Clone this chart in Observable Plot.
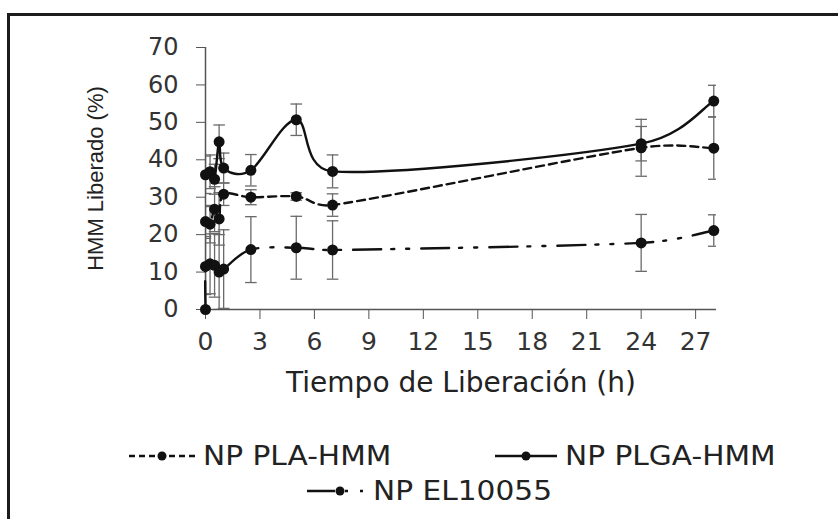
<!DOCTYPE html>
<html><head><meta charset="utf-8">
<script src="https://cdn.jsdelivr.net/npm/d3@7"></script>
<script src="https://cdn.jsdelivr.net/npm/@observablehq/plot@0.6"></script>
<style>
body{margin:0;background:#fff;width:838px;height:519px;overflow:hidden;position:relative;font-family:"DejaVu Sans",sans-serif;}
#frame{position:absolute;left:7px;top:13px;width:900px;height:600px;border-top:3px solid #1c1c1c;border-left:3px solid #1c1c1c;}
#chart{position:absolute;left:0;top:0;}
.item{position:absolute;display:flex;align-items:center;font-size:26px;color:#222;white-space:nowrap;}
.item svg{margin-right:8px;}
.item span{display:inline-block;transform:scaleX(1.14);transform-origin:left center;}
</style></head><body>
<div id="frame"></div>
<div id="chart"></div>
<div id="legend"></div>
<script>
// ---- data ----
const times = [0, 0.25, 0.5, 0.75, 1, 2.5, 5, 7, 24, 28];
const plaValues = [23.5, 22.8, 26.8, 24.2, 30.8, 30.0, 30.2, 27.9, 43.2, 43.1];
const plaErrors = [4, 5, 6, 7, 3, 2, 1, 3, 7.6, 8.3];
const plgaValues = [36, 36.8, 34.8, 44.8, 37.8, 37.2, 50.7, 36.9, 44.3, 55.7];
const plgaErrors = [5, 4.5, 4, 4.5, 4, 4.2, 4.2, 4.4, 4.6, 4.2];
const elTimes = [0, 0, 0.25, 0.5, 0.75, 1, 2.5, 5, 7, 24, 28];
const elValues = [0, 11.5, 12.2, 11.8, 10, 10.8, 16, 16.5, 15.9, 17.8, 21.1];
const elErrors = [0, 7.5, 8, 8.5, 10, 10.5, 8.8, 8.4, 7.8, 7.6, 4.2];
const seriesNames = ["NP PLA-HMM", "NP PLGA-HMM", "NP EL10055"];
const xTicks = [0, 3, 6, 9, 12, 15, 18, 21, 24, 27];
const yTicks = [0, 10, 20, 30, 40, 50, 60, 70];
const xTitle = "Tiempo de Liberación (h)";
const yTitle = "HMM Liberado (%)";

// ---- table ----
const rows = [];
times.forEach((t, i) => rows.push({s: seriesNames[0], t, v: plaValues[i], e: plaErrors[i]}));
times.forEach((t, i) => rows.push({s: seriesNames[1], t, v: plgaValues[i], e: plgaErrors[i]}));
elTimes.forEach((t, i) => rows.push({s: seriesNames[2], t, v: elValues[i], e: elErrors[i]}));
const bars = rows.filter(d => d.e > 0);

const dashes = {
  [seriesNames[0]]: "8,5",
  [seriesNames[1]]: null,
  [seriesNames[2]]: "28,10,3,12,3,12"
};

// spreadsheet-style smoothed line: Bezier with Catmull-Rom tangents, limited per segment
function smoothCurve(context) {
  let pts = [];
  return {
    areaStart() {}, areaEnd() {},
    lineStart() { pts = []; },
    point(x, y) { pts.push([+x, +y]); },
    lineEnd() {
      const n = pts.length;
      if (!n) return;
      context.moveTo(pts[0][0], pts[0][1]);
      if (n === 1) return;
      const T = pts.map((p, i) => {
        const a = pts[Math.max(0, i - 1)], b = pts[Math.min(n - 1, i + 1)];
        return [(b[0] - a[0]) / 6, (b[1] - a[1]) / 6];
      });
      for (let i = 0; i < n - 1; i++) {
        const p = pts[i], q = pts[i + 1];
        const L = Math.hypot(q[0] - p[0], q[1] - p[1]) / 2;
        const lim = t => {
          const m = Math.hypot(t[0], t[1]);
          return m > L && m > 0 ? [t[0] * L / m, t[1] * L / m] : t;
        };
        const t1 = lim(T[i]), t2 = lim(T[i + 1]);
        context.bezierCurveTo(p[0] + t1[0], p[1] + t1[1], q[0] - t2[0], q[1] - t2[1], q[0], q[1]);
      }
    }
  };
}

const capSymbol = {
  draw(ctx, size) {
    const w = Math.sqrt(size / Math.PI);
    ctx.moveTo(-w, 0); ctx.lineTo(w, 0);
  }
};

const errColor = "#6a6a6a";
const marks = [
  Plot.axisY(yTicks, {tickSize: 9, tickPadding: 18, label: null, stroke: "#555", fill: "#333", fontSize: 24}),
  Plot.axisX(xTicks, {tickSize: 10, tickPadding: 13, label: null, stroke: "#555", fill: "#333", fontSize: 25}),
  Plot.ruleY([0], {stroke: "#555", strokeWidth: 1.5}),
  Plot.ruleX(bars, {x: "t", y1: d => d.v - d.e, y2: d => d.v + d.e, stroke: errColor, strokeWidth: 1.3, clip: true}),
  Plot.dot(bars, {x: "t", y: d => d.v + d.e, symbol: capSymbol, r: 5.8, stroke: errColor, strokeWidth: 1.3, fill: "none", clip: true}),
  Plot.dot(bars, {x: "t", y: d => d.v - d.e, symbol: capSymbol, r: 5.8, stroke: errColor, strokeWidth: 1.3, fill: "none", clip: true}),
  Plot.ruleX([0], {y1: 0, y2: 70, stroke: "#555", strokeWidth: 1.5})
];
seriesNames.forEach(name => {
  marks.push(Plot.line(rows.filter(d => d.s === name), {
    x: "t", y: "v", curve: smoothCurve, stroke: "#111", strokeWidth: 2.4,
    strokeDasharray: dashes[name] || undefined
  }));
});
marks.push(Plot.dot(rows, {x: "t", y: "v", r: 5.5, fill: "#111", stroke: "none"}));
marks.push(Plot.text([xTitle], {frameAnchor: "bottom", lineAnchor: "middle", textAnchor: "middle", dy: 74, fontSize: 28, fill: "#222"}));
marks.push(Plot.text([yTitle], {frameAnchor: "left", lineAnchor: "middle", textAnchor: "middle", rotate: -90, dx: -110, fontSize: 22, fill: "#222", fontFamily: "Liberation Sans"}));

const chart = Plot.plot({
  width: 838, height: 420,
  marginLeft: 205, marginRight: 122, marginTop: 47, marginBottom: 111,
  x: {domain: [0, 28.15]},
  y: {domain: [0, 70]},
  style: {fontFamily: "DejaVu Sans", background: "transparent", overflow: "visible"},
  marks
});
document.getElementById("chart").appendChild(chart);

// ---- legend ----
const legendPos = [
  {left: 129, top: 457, w: 66},
  {left: 495, top: 457, w: 62},
  {left: 307, top: 492, w: 58}
];
const legend = document.getElementById("legend");
seriesNames.forEach((name, i) => {
  const p = legendPos[i];
  const div = document.createElement("div");
  div.className = "item";
  div.style.left = p.left + "px";
  div.style.top = (p.top - 16) + "px";
  const ns = "http://www.w3.org/2000/svg";
  const svg = document.createElementNS(ns, "svg");
  svg.setAttribute("width", p.w); svg.setAttribute("height", 20);
  const ln = document.createElementNS(ns, "line");
  ln.setAttribute("x1", 0); ln.setAttribute("x2", p.w);
  ln.setAttribute("y1", 10); ln.setAttribute("y2", 10);
  ln.setAttribute("stroke", "#111"); ln.setAttribute("stroke-width", 2.4);
  if (dashes[name]) ln.setAttribute("stroke-dasharray", i === 0 ? "6,4" : dashes[name]);
  svg.appendChild(ln);
  const c = document.createElementNS(ns, "circle");
  c.setAttribute("cx", i === 2 ? 33 : p.w / 2); c.setAttribute("cy", 10); c.setAttribute("r", 4.5);
  c.setAttribute("fill", "#111");
  svg.appendChild(c);
  div.appendChild(svg);
  const span = document.createElement("span");
  span.textContent = name;
  div.appendChild(span);
  legend.appendChild(div);
});
</script>
</body></html>
